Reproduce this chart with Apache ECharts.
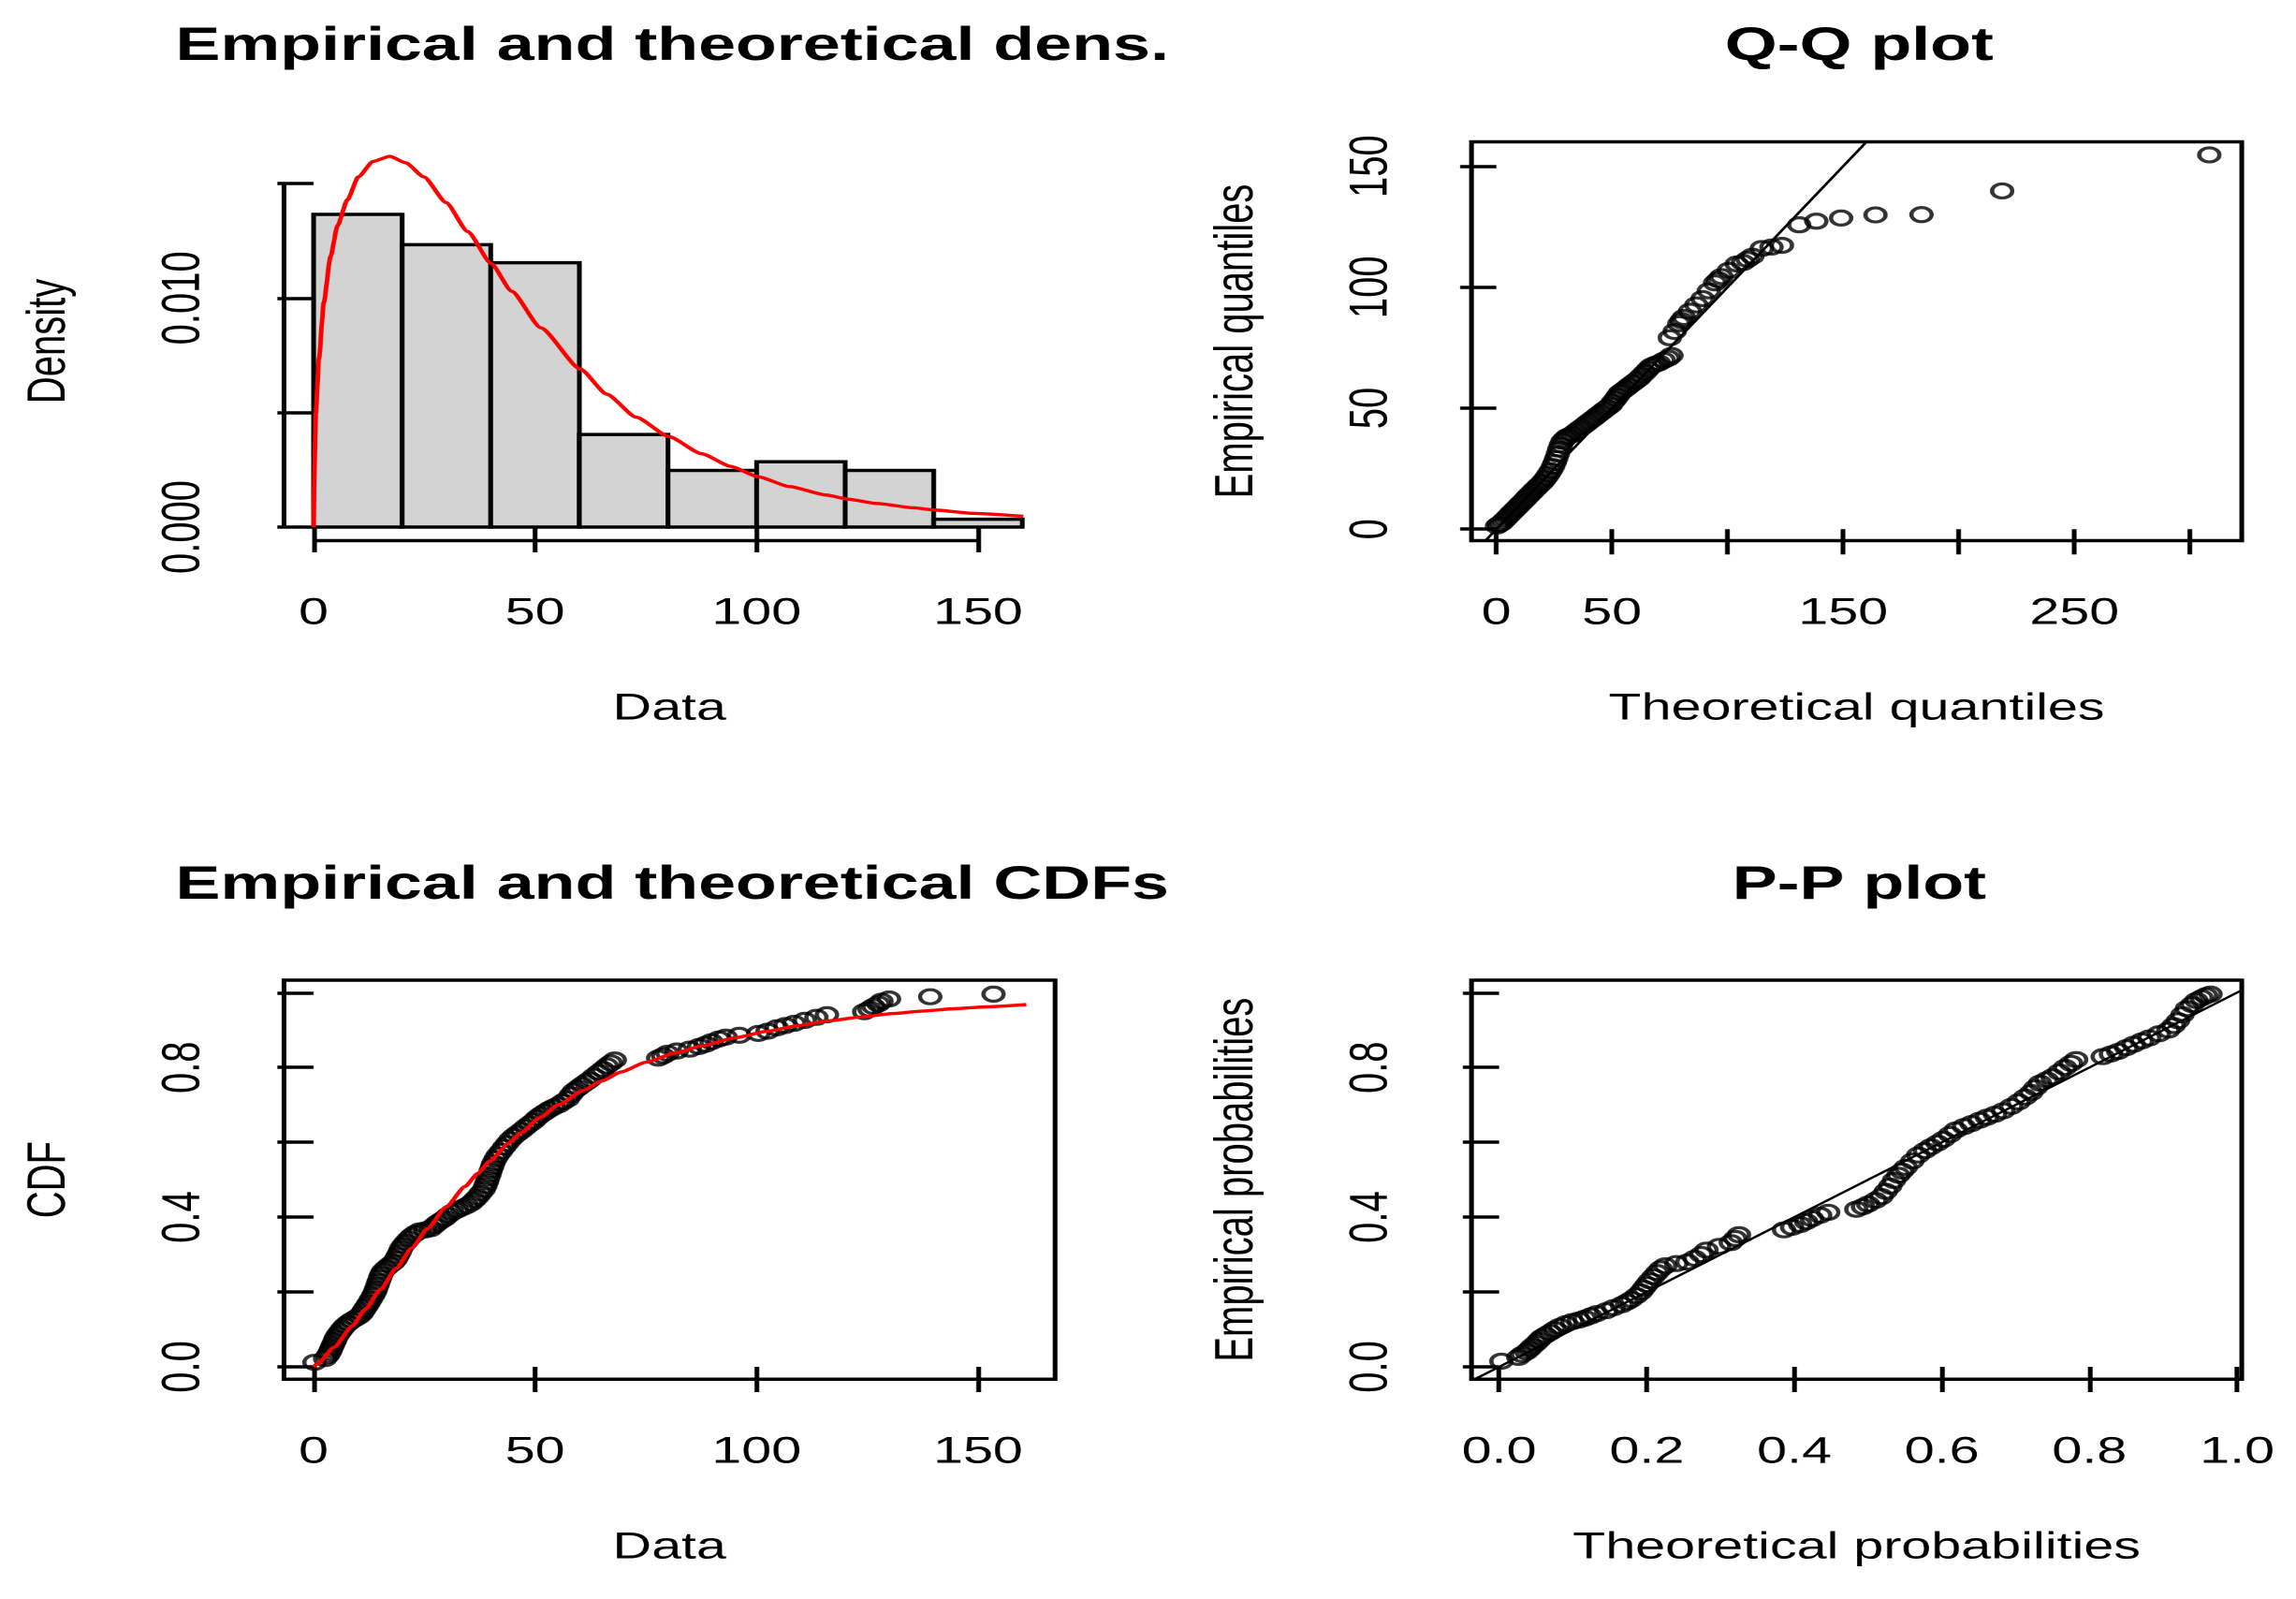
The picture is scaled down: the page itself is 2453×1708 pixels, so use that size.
<!DOCTYPE html>
<html>
<head>
<meta charset="utf-8">
<title>Goodness-of-fit plots</title>
<script src="https://cdn.jsdelivr.net/npm/echarts@6/dist/echarts.min.js"></script>
<style>
html, body { margin: 0; padding: 0; background: #fff; overflow: hidden; }
/* the R picture is a square device stretched sideways, so draw square and stretch */
#chart { width: 1708px; height: 1708px; transform-origin: 0 0; transform: scaleX(1.43618); }
</style>
</head>
<body>
<div id="chart"></div>
<script>
// histogram
var densBreaks = [0, 20, 40, 60, 80, 100, 120, 140, 160];
var densHeights = [0.01365, 0.01233, 0.01154, 0.00404, 0.00247, 0.00285, 0.00247, 0.00034];
// fitted density (red)
var densCurveX = [0, 0.5, 1.2, 2.3, 3.8, 5.4, 7.6, 10.1, 13.4, 17.2, 20.8, 24.9, 29.9, 34.8, 40.1,
    44.7, 51.3, 60.2, 66.2, 72.8, 80.2, 87.6, 94.2, 100.3, 107.4, 115.7, 120.6, 127.2, 135.5, 140.4, 148.7, 160.2];
var densCurveY = [0, 0.00497, 0.00734, 0.0098, 0.0118, 0.01316, 0.01428, 0.01529, 0.01596, 0.01619, 0.0159,
    0.01529, 0.01417, 0.0129, 0.0115, 0.0103, 0.0087, 0.0069, 0.0058, 0.0048, 0.00395, 0.0032, 0.00265,
    0.0022, 0.00177, 0.0014, 0.00122, 0.00103, 0.00084, 0.00074, 0.0006, 0.00047];

// Q-Q plot
var qqTheo = [0.3, 1.2, 2.3, 3.3, 4.3, 5.3, 6.3, 7.3, 8.3, 9.4, 10.4, 11.4, 12.4, 13.4, 14.4, 15.4, 16.4, 17.4,
    18.4, 19.5, 20.5, 21.5, 22.5,
    23.5, 24.5, 25.2, 25.9, 26.5, 27.2, 27.9, 28.6,
    29.6, 30.6, 32.0, 33.3, 34.6, 36.0, 37.3, 38.7, 40.0, 41.4, 42.7, 44.0, 45.4, 46.7, 48.0, 49.4,
    50.4, 51.5, 52.5, 53.5, 54.8, 56.2, 57.5, 58.9, 60.2, 61.6, 62.9, 64.3, 65.6, 67.0, 68.6, 70.3,
    72.4, 74.4, 75.7,
    75.0, 77.1, 79.1, 80.1, 81.1, 83.8, 86.5, 89.2, 91.9, 94.6, 96.0, 97.3, 100.6, 104.0, 106.7, 108.7, 110.7, 114.8,
    119.0, 123.5, 131.0, 138.4, 149.1, 164.0, 183.9, 218.8, 308.4];
var qqEmp = [1.3, 2.0, 2.6, 3.6, 4.5, 5.5, 6.5, 7.4, 8.4, 9.4, 10.4, 11.3, 12.3, 13.3, 14.3, 15.2, 16.2, 17.1,
    18.1, 19.0, 20.1, 21.3, 22.7,
    24.2, 25.9, 27.5, 29.2, 31.0, 33.1, 34.8, 36.3,
    37.3, 38.2, 38.8, 39.5, 40.5, 41.5, 42.4, 43.4, 44.4, 45.4, 46.3, 47.3, 48.3, 49.3, 50.2, 51.2,
    52.5, 53.8, 55.1, 56.4, 57.3, 58.3, 59.3, 60.3, 61.2, 62.2, 63.5, 64.8, 66.1, 67.4, 68.1, 68.7,
    69.8, 70.7, 71.8,
    79.1, 81.7, 84.9, 86.2, 87.5, 90.1, 92.7, 95.3, 98.5, 101.8, 103.1, 104.4, 107.0, 109.6, 110.2, 111.5, 112.8, 116.0,
    116.6, 117.3, 125.8, 127.3, 128.6, 129.9, 130.0, 139.8, 154.7];

// empirical CDF points
var cdfX = [0.2, 2.6, 3.2, 3.6, 3.9, 4.2, 4.5, 4.8, 5.1, 5.5, 6.0, 6.5, 7.1, 7.8, 8.6, 9.5, 10.3, 10.9, 11.4,
    11.9, 12.4, 12.9, 13.4, 13.8, 14.1, 14.4, 14.7, 15.0, 15.3, 15.7, 16.4, 17.2, 18.0, 18.6, 19.0, 19.4, 19.7,
    20.2, 20.8, 21.5, 22.2, 23.0, 23.9, 25.2, 26.4, 27.2, 27.9, 28.8, 29.6, 30.4, 31.3, 32.4, 33.5, 34.6, 35.6,
    36.3, 37.0, 37.7, 38.4, 38.8, 39.1, 39.4, 39.7, 40.0, 40.3, 40.6, 41.1, 41.6, 42.3, 43.0, 43.7, 44.4, 45.2,
    46.1, 47.0, 47.9, 48.8, 49.7, 50.5, 51.4, 52.3, 53.2, 54.2, 55.3, 56.3, 57.4, 58.1, 58.8, 59.7, 60.6, 61.5,
    62.3, 63.3, 64.4, 65.3, 66.2, 67.1, 68.0,
    77.8, 78.9, 79.9, 82.0, 84.9, 87.0, 88.5, 89.8, 91.5, 93.0, 96.1, 100.4, 102.5, 104.6, 106.5, 108.5, 110.9,
    113.5, 115.9, 124.3, 125.5, 126.4, 127.5, 128.2, 129.9, 139.2, 153.5];
var cdfY = [0.012, 0.022, 0.030, 0.038, 0.046, 0.054, 0.062, 0.070, 0.078, 0.086, 0.094, 0.102, 0.110, 0.117,
    0.124, 0.130, 0.136, 0.143, 0.152, 0.161, 0.170, 0.180, 0.190, 0.199, 0.208, 0.218, 0.228, 0.238, 0.247,
    0.256, 0.264, 0.272, 0.279, 0.288, 0.297, 0.306, 0.315, 0.324, 0.333, 0.342, 0.350, 0.357, 0.363, 0.366,
    0.369, 0.377, 0.384, 0.391, 0.397, 0.405, 0.413, 0.419, 0.425, 0.431, 0.438, 0.446, 0.454, 0.464, 0.474,
    0.484, 0.494, 0.504, 0.514, 0.525, 0.535, 0.545, 0.556, 0.566, 0.576, 0.587, 0.597, 0.607, 0.616, 0.624,
    0.632, 0.641, 0.649, 0.657, 0.666, 0.674, 0.681, 0.688, 0.694, 0.700, 0.708, 0.716, 0.727, 0.737, 0.745,
    0.753, 0.760, 0.767, 0.777, 0.787, 0.795, 0.804, 0.812, 0.820,
    0.825, 0.831, 0.838, 0.844, 0.849, 0.856, 0.862, 0.869, 0.876, 0.881, 0.886, 0.891, 0.897, 0.906, 0.912,
    0.918, 0.926, 0.934, 0.941, 0.949, 0.956, 0.963, 0.970, 0.977, 0.983, 0.989, 0.996];
// fitted CDF (red)
var cdfLineX = [0, 1.1, 4.6, 8.8, 11.6, 15.1, 18.7, 22.2, 25.7, 29.9, 34.2, 37.0, 39.8, 44.0, 46.8, 51.1, 55.3,
    60.9, 65.1, 69.4, 75.0, 82.0, 87.7, 95.4, 102.5, 109.5, 116.5, 123.6, 130.6, 137.7, 144.7, 151.8, 160.9];
var cdfLineY = [0, 0.010, 0.052, 0.110, 0.153, 0.207, 0.264, 0.318, 0.369, 0.427, 0.482, 0.516, 0.550, 0.597,
    0.625, 0.666, 0.700, 0.739, 0.764, 0.788, 0.814, 0.840, 0.858, 0.880, 0.897, 0.912, 0.925, 0.935, 0.944,
    0.951, 0.957, 0.962, 0.968];

// P-P plot
var ppTheo = [0.003, 0.026, 0.031, 0.037, 0.041, 0.045, 0.050, 0.054, 0.058, 0.063, 0.069, 0.075, 0.082, 0.090,
    0.099, 0.108, 0.116, 0.124, 0.132, 0.145, 0.155, 0.166, 0.173, 0.179, 0.186, 0.192, 0.196, 0.200, 0.204,
    0.209, 0.214, 0.219, 0.225, 0.240, 0.255, 0.265, 0.274, 0.281, 0.298, 0.314, 0.320, 0.325,
    0.386, 0.397, 0.408, 0.416, 0.424, 0.435, 0.446, 0.484, 0.493, 0.500, 0.510, 0.518, 0.524, 0.530, 0.535,
    0.541, 0.546, 0.551, 0.560, 0.568, 0.577, 0.585, 0.594, 0.602, 0.611, 0.619, 0.630, 0.640, 0.651, 0.661,
    0.672, 0.683, 0.694, 0.704, 0.713, 0.721, 0.727, 0.733, 0.742, 0.750, 0.759, 0.767, 0.775, 0.782,
    0.818, 0.829, 0.839, 0.850, 0.860, 0.871, 0.881, 0.894, 0.907, 0.914, 0.920, 0.926, 0.932, 0.939, 0.945,
    0.952, 0.958, 0.964];
var ppEmp = [0.015, 0.025, 0.033, 0.040, 0.047, 0.055, 0.063, 0.071, 0.079, 0.085, 0.092, 0.100, 0.108, 0.115,
    0.121, 0.125, 0.130, 0.136, 0.142, 0.150, 0.158, 0.166, 0.173, 0.180, 0.190, 0.200, 0.210, 0.220, 0.230,
    0.241, 0.252, 0.262, 0.270, 0.276, 0.280, 0.290, 0.300, 0.312, 0.322, 0.332, 0.343, 0.353,
    0.366, 0.373, 0.380, 0.388, 0.396, 0.405, 0.413, 0.421, 0.428, 0.435, 0.445, 0.455, 0.469, 0.483, 0.498,
    0.512, 0.523, 0.533, 0.550, 0.566, 0.578, 0.588, 0.598, 0.608, 0.621, 0.633, 0.642, 0.650, 0.659, 0.667,
    0.675, 0.684, 0.696, 0.708, 0.721, 0.733, 0.746, 0.758, 0.767, 0.775, 0.788, 0.800, 0.811, 0.821,
    0.829, 0.836, 0.843, 0.853, 0.862, 0.871, 0.879, 0.890, 0.900, 0.912, 0.925, 0.941, 0.957, 0.968, 0.979,
    0.986, 0.992, 0.996];

// ticks and labels (R drops the labels that would overlap)
var dataTicks = [0, 50, 100, 150];
var densTicks = [0, 0.005, 0.010, 0.015];
var densLabels = [0, 0.010];
var qqXTicks = [0, 50, 100, 150, 200, 250, 300];
var qqXLabels = [0, 50, 150, 250];
var qqYTicks = [0, 50, 100, 150];
var probTicks = [0, 0.2, 0.4, 0.6, 0.8, 1.0];
var probLabels = [0, 0.4, 0.8];

// axis ranges (R pads 4%)
var dataRange = [-6.7, 167.4];
var densRange = [-0.000593, 0.016819];
var qqXRange = [-10.8, 322.4];
var qqYRange = [-4.75, 160.1];
var cdfRange = [-0.0333, 1.0333];
var ppXRange = [-0.0376, 1.0063];

var FONT = '"Liberation Sans", Arial, Helvetica, sans-serif';
var LW = 3.5;
var grids = [
    {left: 211.2, top: 151.5, width: 573.7, height: 426, show: false},
    {left: 1094.6, top: 151.5, width: 573, height: 426, show: true},
    {left: 211.2, top: 1047, width: 573.7, height: 426.3, show: true},
    {left: 1094.6, top: 1047, width: 573, height: 426.3, show: true}
];

function zip(a, b) {
    return a.map(function (v, i) { return [v, b[i]]; });
}
function fixed(n) {
    return function (v) { return Number(v).toFixed(n); };
}

function xAxis(gi, range, ticks, labels, fmt, name) {
    return {
        type: 'value', gridIndex: gi, min: range[0], max: range[1],
        name: name, nameLocation: 'middle', nameGap: 160,
        nameTextStyle: {color: '#000', fontSize: 40, fontFamily: FONT},
        axisLine: {show: false},
        axisTick: {show: true, customValues: ticks, length: 27, lineStyle: {color: '#000', width: LW}},
        axisLabel: {show: true, customValues: labels, formatter: fmt, margin: 58,
            color: '#000', fontSize: 40, fontFamily: FONT},
        splitLine: {show: false}
    };
}
function yAxis(gi, range, ticks, labels, fmt, name) {
    return {
        type: 'value', gridIndex: gi, min: range[0], max: range[1],
        name: name, nameLocation: 'middle', nameGap: 154, nameRotate: 90,
        nameTextStyle: {color: '#000', fontSize: 40, fontFamily: FONT},
        axisLine: {show: false},
        axisTick: {show: true, customValues: ticks, length: 27, lineStyle: {color: '#000', width: LW}},
        axisLabel: {show: true, customValues: labels, formatter: fmt, margin: 54, rotate: 90,
            color: '#000', fontSize: 40, fontFamily: FONT},
        splitLine: {show: false}
    };
}

var bins = [];
for (var i = 0; i < densHeights.length; i++) {
    bins.push([densBreaks[i], densBreaks[i + 1], densHeights[i]]);
}

var circle = {color: 'rgba(0,0,0,0)', borderColor: '#000', borderWidth: 3.2};

function diag(xr, yr) {
    var lo = Math.max(xr[0], yr[0]), hi = Math.min(xr[1], yr[1]);
    return [[lo, lo], [hi, hi]];
}

var titleStyle = {color: '#000', fontSize: 50, fontWeight: 'bold', fontFamily: FONT};
function title(text, g, top) {
    return {text: text, left: g.left + g.width / 2 + 2, top: top, textAlign: 'center',
        padding: 0, textStyle: titleStyle};
}

var option = {
    animation: false,
    backgroundColor: '#fff',
    title: [
        title('Empirical and theoretical dens.', grids[0], 25),
        title('Q-Q plot', grids[1], 25),
        title('Empirical and theoretical CDFs', grids[2], 921),
        title('P-P plot', grids[3], 921)
    ],
    grid: grids.map(function (g) {
        return {left: g.left, top: g.top, width: g.width, height: g.height, show: g.show,
            borderColor: '#000', borderWidth: LW, backgroundColor: 'transparent'};
    }),
    xAxis: [
        xAxis(0, dataRange, dataTicks, dataTicks, String, 'Data'),
        xAxis(1, qqXRange, qqXTicks, qqXLabels, String, 'Theoretical quantiles'),
        xAxis(2, dataRange, dataTicks, dataTicks, String, 'Data'),
        xAxis(3, ppXRange, probTicks, probTicks, fixed(1), 'Theoretical probabilities')
    ],
    yAxis: [
        yAxis(0, densRange, densTicks, densLabels, fixed(3), 'Density'),
        yAxis(1, qqYRange, qqYTicks, qqYTicks, String, 'Empirical quantiles'),
        yAxis(2, cdfRange, probTicks, probLabels, fixed(1), 'CDF'),
        yAxis(3, cdfRange, probTicks, probLabels, fixed(1), 'Empirical probabilities')
    ],
    series: [
        {
            type: 'custom', xAxisIndex: 0, yAxisIndex: 0, silent: true,
            data: bins,
            renderItem: function (params, api) {
                var a = api.coord([api.value(0), api.value(2)]);
                var b = api.coord([api.value(1), 0]);
                return {
                    type: 'rect',
                    shape: {x: a[0], y: a[1], width: b[0] - a[0], height: b[1] - a[1]},
                    style: {fill: '#d3d3d3', stroke: '#000', lineWidth: LW}
                };
            }
        },
        {
            type: 'line', xAxisIndex: 0, yAxisIndex: 0, silent: true, showSymbol: false,
            smooth: 0.2, smoothMonotone: 'x',
            data: zip(densCurveX, densCurveY),
            lineStyle: {color: '#ff0000', width: 3.4}
        },
        {   // R-style axis segments (first to last tick) for the histogram
            type: 'line', xAxisIndex: 0, yAxisIndex: 0, silent: true, showSymbol: false, clip: false,
            data: [[dataTicks[0], densRange[0]], [dataTicks[dataTicks.length - 1], densRange[0]]],
            lineStyle: {color: '#000', width: LW}
        },
        {
            type: 'line', xAxisIndex: 0, yAxisIndex: 0, silent: true, showSymbol: false, clip: false,
            data: [[dataRange[0], densTicks[0]], [dataRange[0], densTicks[densTicks.length - 1]]],
            lineStyle: {color: '#000', width: LW}
        },
        {
            type: 'scatter', xAxisIndex: 1, yAxisIndex: 1, silent: true,
            symbol: 'circle', symbolSize: 15, itemStyle: circle,
            data: zip(qqTheo, qqEmp)
        },
        {
            type: 'line', xAxisIndex: 1, yAxisIndex: 1, silent: true, showSymbol: false,
            data: diag(qqXRange, qqYRange),
            lineStyle: {color: '#000', width: 2.2}
        },
        {
            type: 'scatter', xAxisIndex: 2, yAxisIndex: 2, silent: true,
            symbol: 'circle', symbolSize: 15, itemStyle: circle,
            data: zip(cdfX, cdfY)
        },
        {
            type: 'line', xAxisIndex: 2, yAxisIndex: 2, silent: true, showSymbol: false,
            smooth: 0.2, smoothMonotone: 'x',
            data: zip(cdfLineX, cdfLineY),
            lineStyle: {color: '#ff0000', width: 3.4}
        },
        {
            type: 'scatter', xAxisIndex: 3, yAxisIndex: 3, silent: true,
            symbol: 'circle', symbolSize: 15, itemStyle: circle,
            data: zip(ppTheo, ppEmp)
        },
        {
            type: 'line', xAxisIndex: 3, yAxisIndex: 3, silent: true, showSymbol: false,
            data: diag(ppXRange, cdfRange),
            lineStyle: {color: '#000', width: 2.2}
        }
    ]
};

var chart = echarts.init(document.getElementById('chart'), null, {devicePixelRatio: 2});
chart.setOption(option);
</script>
</body>
</html>
